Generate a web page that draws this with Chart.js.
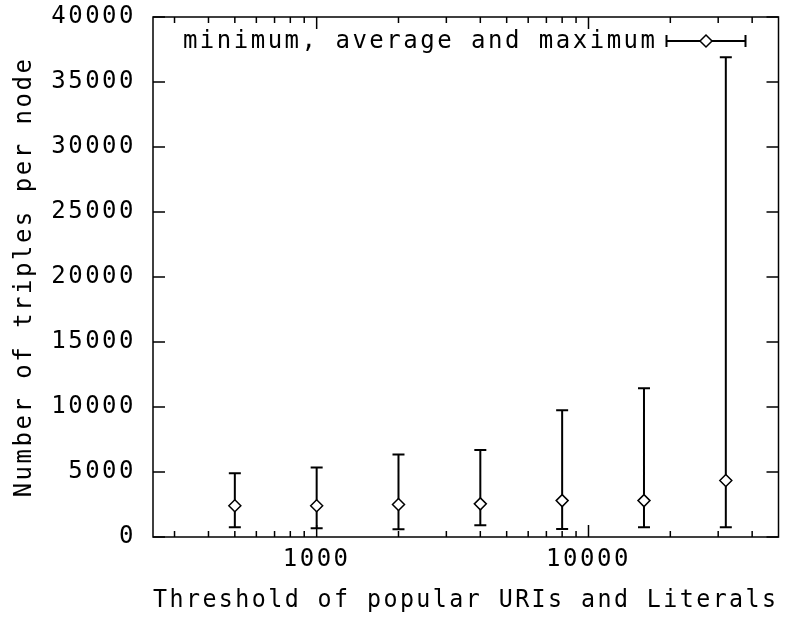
<!DOCTYPE html>
<html>
<head>
<meta charset="utf-8">
<script src="https://cdn.jsdelivr.net/npm/chart.js@4.4.1/dist/chart.umd.min.js"></script>
<style>
  html, body { margin: 0; padding: 0; background: #fff; }
  #wrap { width: 786px; height: 619px; }
</style>
</head>
<body>
<div id="wrap"><canvas id="errChart"></canvas></div>
<script>
// thresholds (popular URIs/literals) and triples per node
const thresholds = [500, 1000, 2000, 4000, 8000, 16000, 32000];
const minTriples = [750, 680, 600, 900, 620, 750, 750];
const avgTriples = [2400, 2400, 2500, 2550, 2800, 2800, 4350];
const maxTriples = [4900, 5350, 6350, 6700, 9750, 11450, 36900];

// axis ticks
const xTickValues = [300, 400, 500, 600, 700, 800, 900, 1000, 2000, 3000, 4000, 5000,
                     6000, 7000, 8000, 9000, 10000, 20000, 30000, 40000];
const xLabelValues = [1000, 10000];
const yTickValues = [0, 5000, 10000, 15000, 20000, 25000, 30000, 35000, 40000];

const legendText = 'minimum, average and maximum';
const FONT = { family: "'DejaVu Sans Mono', monospace", size: 24 };
const SPACING = '2.5px';

// gnuplot style wide text
const spacingPlugin = {
    id: 'spacing',
    beforeUpdate(chart) { chart.ctx.letterSpacing = SPACING; },
    beforeDraw(chart) { chart.ctx.letterSpacing = SPACING; }
};

function diamond(ctx, cx, cy, r) {
    ctx.beginPath();
    ctx.moveTo(cx - r, cy);
    ctx.lineTo(cx, cy - r);
    ctx.lineTo(cx + r, cy);
    ctx.lineTo(cx, cy + r);
    ctx.closePath();
    ctx.fill();
    ctx.stroke();
}

const errorBarPlugin = {
    id: 'errorBars',
    beforeDatasetsDraw(chart) {
        const { ctx, chartArea: a, scales: { x, y } } = chart;
        ctx.save();
        ctx.strokeStyle = '#000';
        ctx.lineWidth = 2;
        ctx.beginPath();
        thresholds.forEach((t, i) => {
            const px = x.getPixelForValue(t);
            const lo = y.getPixelForValue(minTriples[i]);
            const hi = y.getPixelForValue(maxTriples[i]);
            ctx.moveTo(px, lo); ctx.lineTo(px, hi);
            ctx.moveTo(px - 6, lo); ctx.lineTo(px + 6, lo);
            ctx.moveTo(px - 6, hi); ctx.lineTo(px + 6, hi);
        });
        ctx.stroke();

        // key in the top right corner
        const ky = a.top + 24;
        const x0 = a.right - 112, x1 = a.right - 33;
        ctx.beginPath();
        ctx.moveTo(x0, ky); ctx.lineTo(x1, ky);
        ctx.moveTo(x0, ky - 6); ctx.lineTo(x0, ky + 6);
        ctx.moveTo(x1, ky - 6); ctx.lineTo(x1, ky + 6);
        ctx.stroke();
        ctx.lineWidth = 1.5;
        ctx.fillStyle = '#fff';
        diamond(ctx, (x0 + x1) / 2, ky, 6);
        ctx.fillStyle = '#000';
        ctx.font = `${FONT.size}px ${FONT.family}`;
        ctx.letterSpacing = SPACING;
        ctx.textAlign = 'right';
        ctx.textBaseline = 'middle';
        ctx.fillText(legendText, x0 - 9, ky + 1);
        ctx.restore();
    }
};

const framePlugin = {
    id: 'frame',
    afterDraw(chart) {
        const { ctx, chartArea: a, scales: { x, y } } = chart;
        ctx.save();
        ctx.strokeStyle = '#000';
        ctx.lineWidth = 1.5;
        ctx.strokeRect(a.left, a.top, a.right - a.left, a.bottom - a.top);
        ctx.beginPath();
        xTickValues.forEach(v => {
            const px = x.getPixelForValue(v);
            const len = xLabelValues.includes(v) ? 12 : 6;
            ctx.moveTo(px, a.bottom); ctx.lineTo(px, a.bottom - len);
            ctx.moveTo(px, a.top); ctx.lineTo(px, a.top + len);
        });
        yTickValues.forEach(v => {
            const py = y.getPixelForValue(v);
            ctx.moveTo(a.left, py); ctx.lineTo(a.left + 12, py);
            ctx.moveTo(a.right, py); ctx.lineTo(a.right - 12, py);
        });
        ctx.stroke();
        ctx.restore();
    }
};

Chart.defaults.color = '#000';

new Chart(document.getElementById('errChart'), {
    type: 'scatter',
    data: {
        datasets: [{
            label: legendText,
            data: thresholds.map((t, i) => ({ x: t, y: avgTriples[i] })),
            pointStyle: 'rectRot',
            pointRadius: 6,
            pointHoverRadius: 6,
            borderWidth: 1.5,
            borderColor: '#000',
            backgroundColor: 'rgba(255,255,255,1)',
            showLine: false
        }]
    },
    options: {
        responsive: true,
        maintainAspectRatio: false,
        animation: false,
        layout: { padding: { top: 17, right: 6, left: 0, bottom: 0 } },
        plugins: { legend: { display: false }, tooltip: { enabled: false } },
        scales: {
            x: {
                type: 'logarithmic',
                min: 250,
                max: 50000,
                afterBuildTicks: s => { s.ticks = xTickValues.map(v => ({ value: v })); },
                afterFit: s => { s.height = 82; s.paddingLeft = 0; s.paddingRight = 0; },
                grid: { display: false, drawTicks: false },
                border: { display: false },
                ticks: {
                    autoSkip: false,
                    maxRotation: 0,
                    padding: 8,
                    font: FONT,
                    callback: v => xLabelValues.includes(v) ? String(v) : ''
                },
                title: {
                    display: true,
                    text: 'Threshold of popular URIs and Literals',
                    font: FONT,
                    padding: { top: 0, bottom: 4 }
                }
            },
            y: {
                min: 0,
                max: 40000,
                afterFit: s => { s.width = 153; s.paddingTop = 0; s.paddingBottom = 0; },
                grid: { display: false, drawTicks: false },
                border: { display: false },
                ticks: {
                    stepSize: 5000,
                    padding: 17,
                    font: FONT,
                    callback: v => String(v)
                },
                title: {
                    display: true,
                    text: 'Number of triples per node',
                    font: FONT,
                    padding: { top: 10, bottom: 0 }
                }
            }
        }
    },
    plugins: [spacingPlugin, errorBarPlugin, framePlugin]
});
</script>
</body>
</html>
